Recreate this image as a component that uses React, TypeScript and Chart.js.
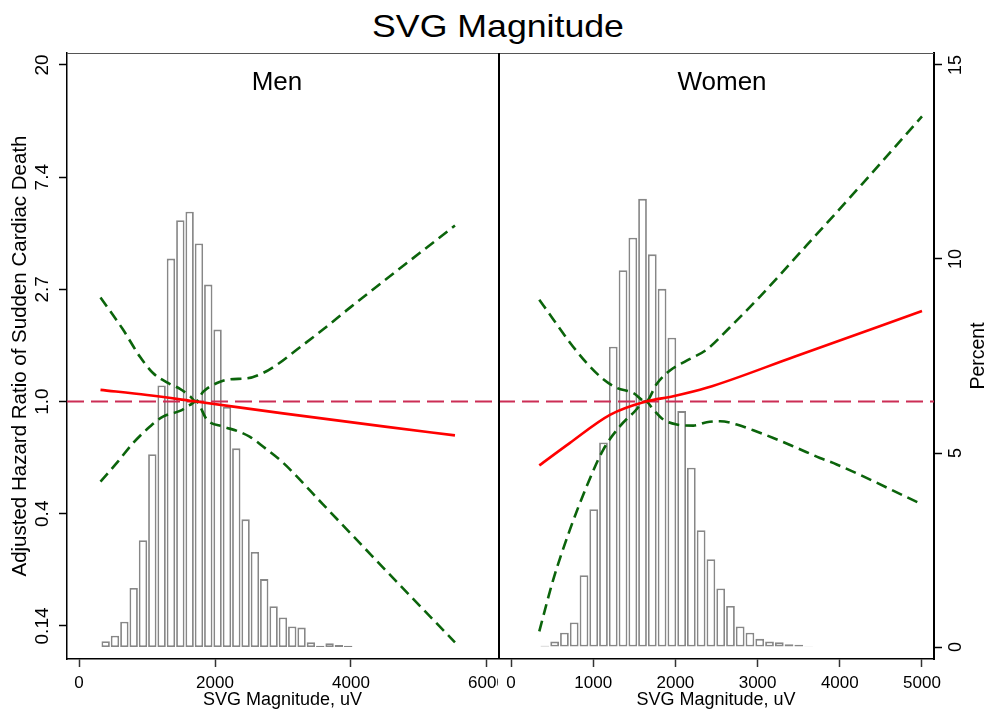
import { useEffect, useRef } from "react";
import { Chart, registerables } from "chart.js";

Chart.register(...registerables);

const FONT = '"Liberation Sans", Arial, Helvetica, sans-serif';

// Histograms of SVG magnitude (bin centres, uV) and share of participants (%)
const menBinCenters = [392, 529, 667, 804, 941, 1078, 1215, 1352, 1490, 1627, 1764, 1901, 2038, 2176, 2313, 2450, 2587, 2724, 2862, 2999, 3136, 3273, 3410, 3548, 3685, 3822, 3959];
const menPercent = [0.15, 0.29, 0.65, 1.52, 2.75, 4.97, 6.74, 10.01, 11.0, 11.22, 10.4, 9.34, 8.18, 6.19, 5.12, 3.29, 2.45, 1.75, 1.05, 0.76, 0.53, 0.5, 0.12, 0.03, 0.1, 0.05, 0.03];
const womenBinCenters = [412, 531, 650, 769, 888, 1006, 1125, 1244, 1363, 1482, 1600, 1719, 1838, 1957, 2076, 2194, 2313, 2432, 2551, 2670, 2788, 2907, 3026, 3145, 3264, 3382, 3501, 3620];
const womenPercent = [0.03, 0.14, 0.37, 0.63, 1.85, 3.55, 5.27, 7.74, 9.71, 10.55, 11.55, 10.12, 9.23, 7.97, 6.08, 4.62, 3.01, 2.26, 1.51, 1.06, 0.53, 0.37, 0.21, 0.14, 0.12, 0.07, 0.06, 0.02];

// Men: adjusted hazard ratio and 95% confidence limits
const menHrX = [316, 1000, 1721, 3000, 4500, 5529];
const menHr = [1.11, 1.06, 1.0, 0.9, 0.8, 0.74];
const menUpperX = [316, 647, 897, 1088, 1309, 1485, 1632, 1721, 1824, 2029, 2221, 2471, 2706, 2912, 3206, 3588, 3985, 5529];
const menUpper = [2.53, 1.9, 1.49, 1.29, 1.18, 1.12, 1.05, 1.0, 1.09, 1.18, 1.22, 1.23, 1.29, 1.39, 1.59, 1.9, 2.31, 4.8];
const menLowerX = [316, 559, 794, 1044, 1235, 1485, 1632, 1721, 1882, 2118, 2324, 2515, 2706, 3000, 3588, 4176, 4800, 5529];
const menLower = [0.49, 0.58, 0.69, 0.8, 0.875, 0.92, 0.97, 1.0, 0.85, 0.8, 0.77, 0.73, 0.67, 0.58, 0.4, 0.275, 0.185, 0.117];

// Women: adjusted hazard ratio and 95% confidence limits
const womenHrX = [344, 718, 1204, 1640, 1974, 2381, 3455, 5000];
const womenHr = [0.566, 0.692, 0.888, 1.0, 1.048, 1.13, 1.495, 2.24];
const womenUpperX = [344, 515, 718, 921, 1123, 1286, 1488, 1640, 1772, 1934, 2137, 2381, 2664, 3029, 3516, 4266, 5000];
const womenUpper = [2.48, 2.08, 1.69, 1.41, 1.22, 1.13, 1.08, 1.0, 1.17, 1.32, 1.44, 1.59, 1.94, 2.55, 3.77, 6.92, 12.7];
const womenLowerX = [344, 515, 718, 921, 1123, 1326, 1488, 1640, 1731, 1853, 2016, 2218, 2381, 2543, 2746, 2948, 3191, 3476, 3759, 3962, 5000];
const womenLower = [0.129, 0.205, 0.32, 0.47, 0.652, 0.803, 0.904, 1.0, 0.931, 0.852, 0.815, 0.807, 0.831, 0.839, 0.815, 0.774, 0.723, 0.662, 0.605, 0.571, 0.4];

// Axis ticks
const hrTicks = [0.1353, 0.3679, 1, 2.7183, 7.389, 20.09];
const hrTickLabels = ["0.14", "0.4", "1.0", "2.7", "7.4", "20"];
const pctTicks = [0, 5, 10, 15];
const pctTickLabels = ["0", "5", "10", "15"];
const menXTicks = [0, 2000, 4000, 6000];
const womenXTicks = [0, 1000, 2000, 3000, 4000, 5000];

// Axis ranges
const HR_MIN = 0.1008;
const HR_MAX = 22.35;
const PCT_MIN = -0.309;
const PCT_MAX = 15.309;
const MEN_X = [-176.5, 6161.8];
const WOMEN_X = [-158.2, 5146];

const TOP = 53;
const X_AXIS_H = 52;

const RED = "#ff0000";
const GREEN = "#0b640b";
const REF = "#cc2d55";
const BAR_EDGE = "#878787";

const pts = (xs: number[], ys: number[]) => xs.map((x, i) => ({ x, y: ys[i] }));

function drawText(
  ctx: CanvasRenderingContext2D,
  s: string,
  x: number,
  y: number,
  size: number,
  rotate = 0,
  baseline: CanvasTextBaseline = "middle"
) {
  ctx.save();
  ctx.translate(x, y);
  if (rotate) ctx.rotate(rotate);
  ctx.font = `${size}px ${FONT}`;
  ctx.fillStyle = "#000";
  ctx.textAlign = "center";
  ctx.textBaseline = baseline;
  ctx.fillText(s, 0, 0);
  ctx.restore();
}

function datasets(
  binX: number[],
  pct: number[],
  hrX: number[],
  hr: number[],
  upX: number[],
  up: number[],
  loX: number[],
  lo: number[],
  xr: number[]
) {
  const ciLine = {
    type: "line" as const,
    xAxisID: "x",
    yAxisID: "yHR",
    borderColor: GREEN,
    borderWidth: 2.6,
    borderDash: [11, 6],
    pointRadius: 0,
    fill: false,
    cubicInterpolationMode: "monotone" as const,
    order: 2,
  };
  return [
    {
      type: "bar" as const,
      xAxisID: "x",
      yAxisID: "yPct",
      data: pts(binX, pct),
      backgroundColor: "#ffffff",
      borderColor: BAR_EDGE,
      borderWidth: 1.8,
      borderSkipped: false,
      barPercentage: 0.9,
      categoryPercentage: 1,
      order: 10,
    },
    {
      type: "line" as const,
      xAxisID: "x",
      yAxisID: "yHR",
      data: pts([xr[0], xr[1]], [1, 1]),
      borderColor: REF,
      borderWidth: 2,
      borderDash: [17, 7],
      pointRadius: 0,
      fill: false,
      order: 5,
    },
    { ...ciLine, data: pts(upX, up) },
    { ...ciLine, data: pts(loX, lo) },
    {
      type: "line" as const,
      xAxisID: "x",
      yAxisID: "yHR",
      data: pts(hrX, hr),
      borderColor: RED,
      borderWidth: 2.6,
      pointRadius: 0,
      fill: false,
      cubicInterpolationMode: "monotone" as const,
      order: 1,
    },
  ];
}

function xScale(range: number[], ticks: number[]) {
  return {
    type: "linear" as const,
    position: "bottom" as const,
    min: range[0],
    max: range[1],
    offset: false,
    afterBuildTicks: (s: any) => {
      s.ticks = ticks.map((v) => ({ value: v }));
    },
    afterFit: (s: any) => {
      s.height = X_AXIS_H;
      s.paddingLeft = 0;
      s.paddingRight = 0;
    },
    grid: {
      display: true,
      offset: false,
      drawOnChartArea: false,
      drawTicks: true,
      tickLength: 8,
      tickColor: "#333",
      tickWidth: 1.5,
    },
    border: { display: true, color: "#000", width: 1.5 },
    ticks: {
      display: true,
      padding: 6,
      color: "#000",
      autoSkip: false,
      maxRotation: 0,
      minRotation: 0,
      font: { family: FONT, size: 17 },
      callback: (v: any) => String(v),
    },
    title: {
      display: true,
      text: "SVG Magnitude, uV",
      color: "#000",
      font: { family: FONT, size: 18 },
      padding: { top: 0, bottom: 0 },
    },
  };
}

function hrScale(show: boolean) {
  return {
    type: "logarithmic" as const,
    position: "left" as const,
    display: show,
    min: HR_MIN,
    max: HR_MAX,
    afterBuildTicks: (s: any) => {
      s.ticks = hrTicks.map((v) => ({ value: v }));
    },
    afterFit: (s: any) => {
      s.width = show ? 67 : 0;
    },
    grid: {
      display: true,
      drawOnChartArea: false,
      drawTicks: true,
      tickLength: 8,
      tickColor: "#000",
      tickWidth: 1.5,
    },
    border: { display: true, color: "#000", width: 1.5 },
    ticks: { display: false },
  };
}

function pctScale(show: boolean) {
  return {
    type: "linear" as const,
    position: "right" as const,
    display: show,
    min: PCT_MIN,
    max: PCT_MAX,
    afterBuildTicks: (s: any) => {
      s.ticks = pctTicks.map((v) => ({ value: v }));
    },
    afterFit: (s: any) => {
      s.width = show ? 53 : 0;
    },
    grid: {
      display: true,
      drawOnChartArea: false,
      drawTicks: true,
      tickLength: 8,
      tickColor: "#000",
      tickWidth: 1.5,
    },
    border: { display: true, color: "#000", width: 2 },
    ticks: { display: false },
  };
}

const baseOptions = {
  responsive: false,
  maintainAspectRatio: false,
  animation: false as const,
  devicePixelRatio: 1,
  events: [] as any[],
  layout: { padding: { top: TOP, left: 0, right: 0, bottom: 0 }, autoPadding: false },
  plugins: { legend: { display: false }, tooltip: { enabled: false }, title: { display: false } },
};

const menDecor = {
  id: "menDecor",
  afterDraw(chart: any) {
    const { ctx, chartArea } = chart;
    const y = chart.scales.yHR;
    ctx.save();
    ctx.strokeStyle = "#555";
    ctx.lineWidth = 1;
    ctx.beginPath();
    ctx.moveTo(chartArea.left, chartArea.top + 0.5);
    ctx.lineTo(chartArea.right, chartArea.top + 0.5);
    ctx.stroke();
    ctx.restore();
    hrTicks.forEach((v, i) => drawText(ctx, hrTickLabels[i], 43, y.getPixelForValue(v), 19, -Math.PI / 2));
    drawText(
      ctx,
      "Adjusted Hazard Ratio of Sudden Cardiac Death",
      20.5,
      (chartArea.top + chartArea.bottom) / 2,
      20.5,
      -Math.PI / 2
    );
    drawText(ctx, "Men", 277, 90, 26, 0, "alphabetic");
  },
};

const womenDecor = {
  id: "womenDecor",
  afterDraw(chart: any) {
    const { ctx, chartArea } = chart;
    const y = chart.scales.yPct;
    ctx.save();
    ctx.strokeStyle = "#555";
    ctx.lineWidth = 1;
    ctx.beginPath();
    ctx.moveTo(chartArea.left, chartArea.top + 0.5);
    ctx.lineTo(chartArea.right, chartArea.top + 0.5);
    ctx.stroke();
    ctx.strokeStyle = "#000";
    ctx.lineWidth = 2;
    ctx.beginPath();
    ctx.moveTo(chartArea.left + 1, chartArea.top);
    ctx.lineTo(chartArea.left + 1, chartArea.bottom);
    ctx.stroke();
    ctx.restore();
    pctTicks.forEach((v, i) =>
      drawText(ctx, pctTickLabels[i], chartArea.right + 22.5, y.getPixelForValue(v), 18, -Math.PI / 2)
    );
    drawText(ctx, "Percent", chartArea.right + 45, (chartArea.top + chartArea.bottom) / 2, 19.5, -Math.PI / 2);
    drawText(ctx, "Women", 224, 90, 26, 0, "alphabetic");
  },
};

export default function App() {
  const leftRef = useRef<HTMLCanvasElement>(null);
  const rightRef = useRef<HTMLCanvasElement>(null);

  useEffect(() => {
    const men = new Chart(leftRef.current as HTMLCanvasElement, {
      type: "bar",
      data: {
        datasets: datasets(menBinCenters, menPercent, menHrX, menHr, menUpperX, menUpper, menLowerX, menLower, MEN_X) as any,
      },
      options: {
        ...baseOptions,
        scales: { x: xScale(MEN_X, menXTicks), yHR: hrScale(true), yPct: pctScale(false) } as any,
      } as any,
      plugins: [menDecor],
    });
    const women = new Chart(rightRef.current as HTMLCanvasElement, {
      type: "bar",
      data: {
        datasets: datasets(
          womenBinCenters,
          womenPercent,
          womenHrX,
          womenHr,
          womenUpperX,
          womenUpper,
          womenLowerX,
          womenLower,
          WOMEN_X
        ) as any,
      },
      options: {
        ...baseOptions,
        scales: { x: xScale(WOMEN_X, womenXTicks), yHR: hrScale(false), yPct: pctScale(true) } as any,
      } as any,
      plugins: [womenDecor],
    });
    return () => {
      men.destroy();
      women.destroy();
    };
  }, []);

  return (
    <div style={{ position: "absolute", left: 0, top: 0, width: 987, height: 711, background: "#fff", overflow: "hidden" }}>
      <div
        style={{
          position: "absolute",
          left: 497.5,
          top: 10,
          font: `32px ${FONT}`,
          lineHeight: "32px",
          whiteSpace: "nowrap",
          color: "#000",
          transform: "translateX(-50%) scaleX(1.115)",
        }}
      >
        SVG Magnitude
      </div>
      <canvas ref={leftRef} width={498} height={711} style={{ position: "absolute", left: 0, top: 0, width: 498, height: 711 }} />
      <canvas ref={rightRef} width={489} height={711} style={{ position: "absolute", left: 498, top: 0, width: 489, height: 711 }} />
    </div>
  );
}
